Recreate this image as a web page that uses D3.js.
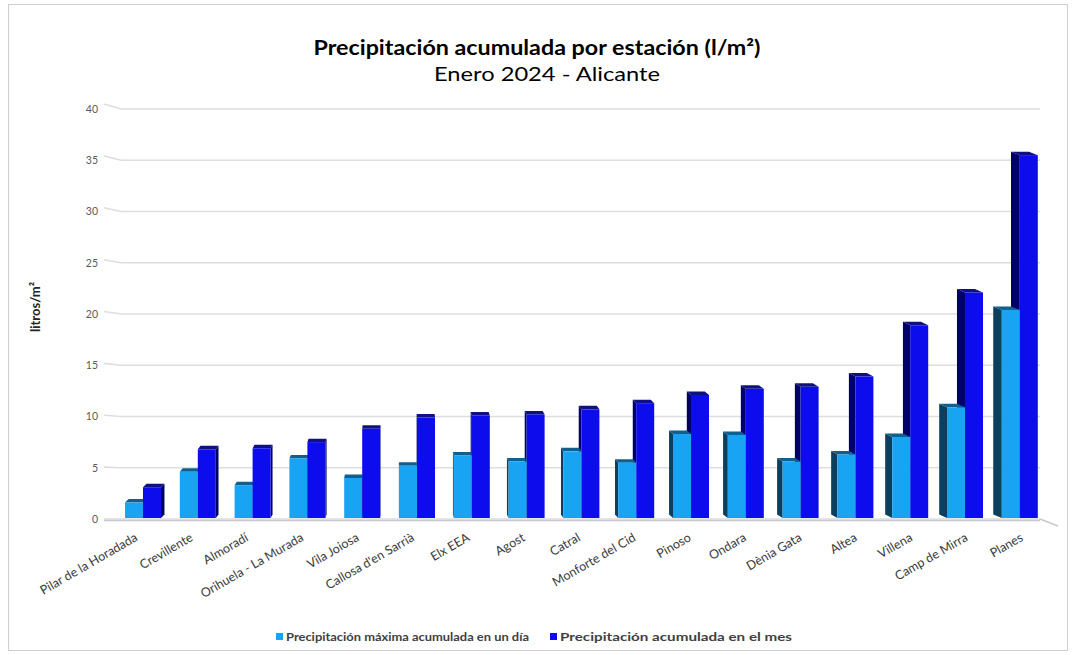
<!DOCTYPE html>
<html><head><meta charset="utf-8">
<script src="https://cdn.jsdelivr.net/npm/d3@7/dist/d3.min.js"></script>
<style>html,body{margin:0;padding:0;background:#fff;}svg{display:block;font-family:Lato,"Open Sans",sans-serif;}</style>
</head><body>
<svg id="chart" width="1075" height="655"></svg>
<script>
const categories = ["Pilar de la Horadada","Crevillente","Almoradí","Orihuela - La Murada","Vila Joiosa","Callosa d'en Sarrià","Elx EEA","Agost","Catral","Monforte del Cid","Pinoso","Ondara","Dènia Gata","Altea","Villena","Camp de Mirra","Planes"];
const maxDay = [1.6,4.6,3.3,5.9,4.0,5.2,6.2,5.6,6.6,5.5,8.3,8.2,5.6,6.3,8.0,10.9,20.4];
const monthTotal = [3.1,6.8,6.9,7.5,8.8,9.9,10.1,10.2,10.7,11.3,12.1,12.7,12.9,13.9,18.9,22.1,35.5];
const yTicks = [0,5,10,15,20,25,30,35,40];
const seriesNames = ["Precipitación máxima acumulada en un día","Precipitación acumulada en el mes"];
const titleText = "Precipitación acumulada por estación (l/m²)";
const subtitleText = "Enero 2024 - Alicante";
const yTitle = "litros/m²";

const svg = d3.select("#chart");
const colors = {
  front: ["#18a4f2", "#0c0ced"],
  side: ["#0b3f5e", "#00006a"],
  top: ["#0f5f8f", "#101080"]
};

// frame
svg.append("rect").attr("x",8.5).attr("y",4.5).attr("width",1059).attr("height",646)
  .attr("fill","none").attr("stroke","#cfcfcf").attr("stroke-width",1);

const x = d3.scaleBand().domain(categories).range([115.6, 1047.2]).paddingInner(0).paddingOuter(0);
const sx = d3.scaleBand().domain([0,1]).range([-18, 18]);
const y = d3.scaleLinear().domain([0,40]).range([519,109]);
const vx = 400, k = 0.014, depthY = -3.5;

// gridlines (back wall) + left wall segments
const grid = svg.append("g");
yTicks.forEach(t => {
  const yy = y(t);
  const slant = -(519 - yy) * 0.012;
  grid.append("line").attr("x1",121).attr("x2",1040).attr("y1",yy).attr("y2",yy)
    .attr("stroke","#dedede").attr("stroke-width",1.6);
  grid.append("line").attr("x1",104).attr("x2",121).attr("y1",yy+slant).attr("y2",yy)
    .attr("stroke","#dedede").attr("stroke-width",1.6);
});
// floor edges
grid.append("line").attr("x1",1040).attr("y1",519).attr("x2",1058).attr("y2",526)
  .attr("stroke","#c8c8c8").attr("stroke-width",1.4);
grid.append("line").attr("x1",104).attr("y1",520.5).attr("x2",1040).attr("y2",520.5)
  .attr("stroke","#c8c8d0").attr("stroke-width",1.4);

// y tick labels
const yAxis = d3.axisLeft(y).tickValues(yTicks).tickSize(0).tickPadding(0);
const ya = svg.append("g").attr("transform","translate(98,0)").call(yAxis);
ya.select(".domain").remove();
ya.selectAll("text").attr("font-family","Lato, sans-serif").attr("font-size",10.5).attr("fill","#595959");

// y title
svg.append("text").attr("transform","translate(35,307) rotate(-90)").attr("text-anchor","middle")
  .attr("dy","0.35em").attr("font-size",13).attr("font-weight","bold").attr("fill","#262626").text(yTitle);

// bars
const bars = svg.append("g");
function drawBar(g, x0, x1, yt, yb, s) {
  const xm = (x0 + x1) / 2;
  const dx = (vx - xm) * k;
  const dy = depthY;
  const ex = dx > 0 ? x1 : x0;
  g.append("path").attr("d", `M${ex},${yt}L${ex+dx},${yt+dy}L${ex+dx},${yb+dy}L${ex},${yb}Z`)
    .attr("fill", colors.side[s]);
  g.append("path").attr("d", `M${x0},${yt}L${x1},${yt}L${x1+dx},${yt+dy}L${x0+dx},${yt+dy}Z`)
    .attr("fill", colors.top[s]);
  g.append("rect").attr("x", x0).attr("y", yt).attr("width", x1 - x0).attr("height", yb - yt)
    .attr("fill", colors.front[s]);
}
categories.forEach((c, i) => {
  const cx = x(c) + x.bandwidth() / 2;
  const vals = [maxDay[i], monthTotal[i]];
  const order = cx > vx ? [1, 0] : [0, 1];
  const g = bars.append("g");
  order.forEach(s => {
    const x0 = cx + sx(s), x1 = x0 + sx.bandwidth();
    drawBar(g, x0, x1, y(vals[s]), y(0) - 1, s);
  });
});

// x labels
const xl = svg.append("g");
categories.forEach(c => {
  const cx = x(c) + x.bandwidth() / 2;
  const px = cx - 2 + (cx - 400) * 0.01;
  xl.append("text").attr("transform", `translate(${px},540) rotate(-30)`).attr("text-anchor","end")
    .attr("font-size",12.5).attr("fill","#3a3a3a").text(c);
});

// title
svg.append("text").attr("x",537).attr("y",55).attr("text-anchor","middle").attr("font-size",21)
  .attr("font-weight","bold").attr("fill","#000").attr("textLength",447).attr("lengthAdjust","spacingAndGlyphs").text(titleText);
svg.append("text").attr("x",547).attr("y",81).attr("text-anchor","middle").attr("font-size",20)
  .attr("fill","#000").attr("textLength",226).attr("lengthAdjust","spacingAndGlyphs").text(subtitleText);

// legend
const legX = [276, 550];
const legW = [243, 232];
seriesNames.forEach((n, s) => {
  svg.append("rect").attr("x", legX[s]).attr("y", 633).attr("width", 7).attr("height", 7).attr("fill", colors.front[s]);
  svg.append("text").attr("x", legX[s] + 10).attr("y", 641).attr("font-size", 11.5).attr("font-weight","bold")
    .attr("fill","#404040").attr("textLength", legW[s]).attr("lengthAdjust","spacingAndGlyphs").text(n);
});
</script>
</body></html>
